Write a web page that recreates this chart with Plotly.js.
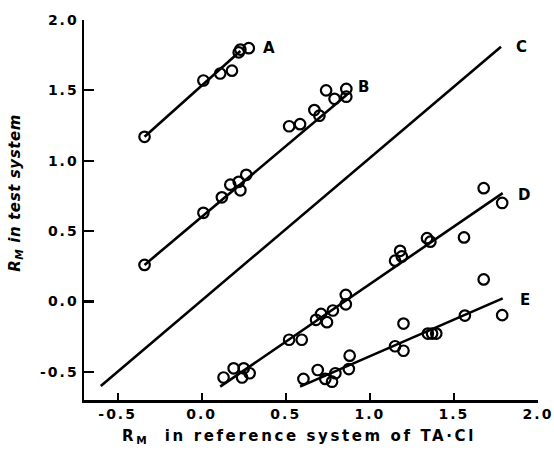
<!DOCTYPE html>
<html>
<head>
<meta charset="utf-8">
<script src="https://cdn.plot.ly/plotly-3.0.1.min.js"></script>
<style>html,body{margin:0;padding:0;background:#fff;}#chart{width:554px;height:451px;}</style>
</head>
<body>
<div id="chart"></div>
<script>
// Series A
const aX = [-0.34, 0.01, 0.11, 0.18, 0.22, 0.23, 0.28];
const aY = [1.17, 1.57, 1.62, 1.64, 1.77, 1.79, 1.80];
const aLineX = [-0.34, 0.23];
const aLineY = [1.17, 1.78];
// Series B
const bX = [-0.34, 0.01, 0.12, 0.17, 0.22, 0.23, 0.265, 0.52, 0.585, 0.67, 0.70, 0.74, 0.79, 0.86, 0.86];
const bY = [0.26, 0.63, 0.74, 0.83, 0.85, 0.79, 0.90, 1.245, 1.26, 1.36, 1.32, 1.50, 1.44, 1.51, 1.455];
const bLineX = [-0.34, 0.865];
const bLineY = [0.26, 1.47];
// Line C (no points)
const cLineX = [-0.60, 1.78];
const cLineY = [-0.60, 1.81];
// Series D
const dX = [0.13, 0.19, 0.24, 0.25, 0.285, 0.52, 0.595, 0.68, 0.71, 0.745, 0.78, 0.857, 0.857, 1.15, 1.18, 1.19, 1.34, 1.36, 1.56, 1.677, 1.787];
const dY = [-0.54, -0.475, -0.54, -0.475, -0.51, -0.272, -0.272, -0.13, -0.088, -0.147, -0.064, 0.047, -0.02, 0.29, 0.36, 0.32, 0.45, 0.425, 0.455, 0.805, 0.70];
const dLineX = [0.11, 1.79];
const dLineY = [-0.605, 0.77];
// Series E
const eX = [0.605, 0.69, 0.735, 0.775, 0.795, 0.875, 0.88, 1.15, 1.20, 1.20, 1.345, 1.37, 1.395, 1.565, 1.677, 1.787];
const eY = [-0.55, -0.487, -0.55, -0.57, -0.51, -0.48, -0.385, -0.318, -0.35, -0.157, -0.228, -0.228, -0.228, -0.10, 0.157, -0.097];
const eLineX = [0.585, 1.79];
const eLineY = [-0.605, 0.022];
// Labels
const labelText = ['A', 'B', 'C', 'D', 'E'];
const labelX = [0.40, 0.965, 1.90, 1.915, 1.925];
const labelY = [1.80, 1.525, 1.81, 0.755, 0.01];
const xTicks = [-0.5, 0.0, 0.5, 1.0, 1.5, 2.0];
const yTicks = [-0.5, 0.0, 0.5, 1.0, 1.5, 2.0];
const tickFmt = v => '<span style="letter-spacing:2px">' + v.toFixed(1) + '</span>';

const lineStyle = {color: '#000', width: 2.6};
const markerStyle = {symbol: 'circle-open', size: 10.5, color: '#000', line: {width: 2.2, color: '#000'}};

function lineTrace(x, y) { return {x, y, mode: 'lines', line: lineStyle, hoverinfo: 'skip', showlegend: false, type: 'scatter'}; }
function ptTrace(x, y) { return {x, y, mode: 'markers', marker: markerStyle, showlegend: false, type: 'scatter', cliponaxis: false}; }

const data = [
  lineTrace(aLineX, aLineY), ptTrace(aX, aY),
  lineTrace(bLineX, bLineY), ptTrace(bX, bY),
  lineTrace(cLineX, cLineY),
  lineTrace(dLineX, dLineY), ptTrace(dX, dY),
  lineTrace(eLineX, eLineY), ptTrace(eX, eY)
];

const fontFam = 'DejaVu Sans, Arial, sans-serif';
const annotations = labelText.map((t, i) => ({
  x: labelX[i], y: labelY[i], xref: 'x', yref: 'y', text: '<b>' + t + '</b>',
  showarrow: false, font: {family: fontFam, size: 15, color: '#000'}, xanchor: 'center', yanchor: 'middle'
}));
annotations.push({
  x: 0.474, y: -0.097, xref: 'paper', yref: 'paper',
  text: '<b><span style="letter-spacing:2.6px">R<sub>M</sub>  in reference system of TA·Cl</span></b>',
  showarrow: false, font: {family: fontFam, size: 15, color: '#000'}, xanchor: 'center', yanchor: 'middle'
});
annotations.push({
  x: -0.15, y: 0.545, xref: 'paper', yref: 'paper', textangle: -90,
  text: '<b><i><span style="letter-spacing:0.6px">R<sub>M</sub> in test system</span></i></b>',
  showarrow: false, font: {family: fontFam, size: 15, color: '#000'}, xanchor: 'center', yanchor: 'middle'
});

const axisCommon = {
  showgrid: false, zeroline: false, showline: true, linecolor: '#000', linewidth: 2.5,
  ticks: 'inside', tickcolor: '#000', tickwidth: 2.2, mirror: false,
  tickfont: {family: fontFam, size: 14, color: '#000', weight: 'bold'}
};

const layout = {
  width: 554, height: 451,
  margin: {l: 84, r: 16, t: 20, b: 51},
  paper_bgcolor: '#fff', plot_bgcolor: '#fff',
  showlegend: false,
  xaxis: Object.assign({}, axisCommon, {range: [-0.70, 2.0], tickvals: xTicks, ticktext: xTicks.map(tickFmt), ticklen: 7}),
  yaxis: Object.assign({}, axisCommon, {range: [-0.70, 2.0], tickvals: yTicks, ticktext: yTicks.map(tickFmt), ticklen: 10}),
  annotations
};

Plotly.newPlot('chart', data, layout, {staticPlot: true, displayModeBar: false});
</script>
</body>
</html>
